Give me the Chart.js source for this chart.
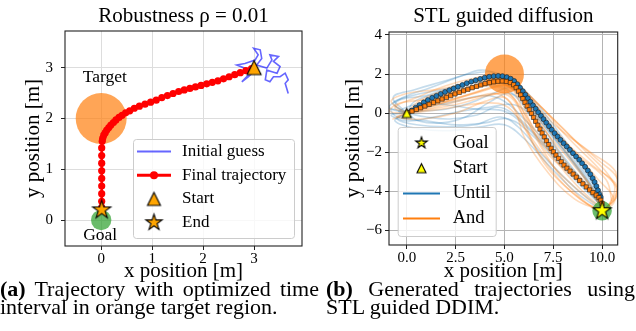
<!DOCTYPE html>
<html>
<head>
<meta charset="utf-8">
<script src="https://cdn.jsdelivr.net/npm/chart.js@4.4.1/dist/chart.umd.min.js"></script>
<style>
	body { margin: 0; width: 636px; height: 331px; background: #fff; position: relative; overflow: hidden; font-family: "Liberation Serif", "Times New Roman", serif; }
	canvas { position: absolute; top: 0; }
	#chartA { left: 0; }
	#chartB { left: 320px; }
	.cap { position: absolute; top: 280px; font-size: 22px; line-height: 18px; color: #000; }
	.cap .j { text-align: justify; text-align-last: justify; white-space: nowrap; }
</style>
</head>
<body>
<canvas id="chartA" width="320" height="285"></canvas>
<canvas id="chartB" width="316" height="285"></canvas>
<div class="cap" style="left:0;width:319px">
	<div class="j"><b>(a)</b> Trajectory with optimized time</div>
	<div>interval in orange target region.</div>
</div>
<div class="cap" style="left:326px;width:309px">
	<div class="j"><b>(b)</b> Generated trajectories using</div>
	<div>STL guided DDIM.</div>
</div>
<script>
// ---------- panel (a) ----------
var xTicksA = [0, 1, 2, 3];
var yTicksA = [0, 1, 2, 3];
var initialGuess = [[2.95,2.99],[2.92,2.89],[2.76,2.72],[2.89,2.82],[2.99,2.92],[2.66,3.05],[2.82,3.08],[3.02,3.15],
	[3.08,3.25],[2.99,3.38],[3.12,3.35],[3.15,3.18],[3.05,3.05],[3.25,2.99],[3.35,3.15],[3.31,3.25],[3.48,3.22],
	[3.38,3.12],[3.51,3.02],[3.45,2.89],[3.35,2.92],[3.25,2.95],[3.22,2.76],[3.31,2.72],[3.38,2.82],[3.51,2.82],
	[3.61,2.89],[3.67,2.76],[3.61,2.69],[3.67,2.49]];
var finalTrajectory = [[2.95,2.98],[2.84,2.94],[2.73,2.9],[2.62,2.86],[2.51,2.82],[2.4,2.78],[2.29,2.74],[2.18,2.71],
	[2.07,2.68],[1.96,2.65],[1.85,2.62],[1.74,2.59],[1.63,2.56],[1.52,2.53],[1.41,2.49],[1.3,2.45],[1.19,2.41],
	[1.08,2.36],[0.97,2.32],[0.86,2.28],[0.75,2.24],[0.65,2.2],[0.56,2.15],[0.48,2.11],[0.41,2.06],[0.35,2.02],
	[0.29,1.97],[0.24,1.92],[0.19,1.87],[0.15,1.82],[0.11,1.77],[0.08,1.72],[0.05,1.67],[0.03,1.61],[0.02,1.55],
	[0.01,1.42],[0.01,1.27],[0.01,1.12],[0.01,0.97],[0.01,0.82],[0.01,0.67],[0.01,0.52],[0.01,0.37],[0.01,0.25]];
var startA = [[3, 3]];
var endA = [[0.01, 0.2]];
var targetA = [[0, 2]];
var targetRadiusA = 0.5;
var goalA = [[0, 0]];
var goalRadiusA = 0.2;

// ---------- panel (b) ----------
var xTicksB = [0, 2.5, 5, 7.5, 10];
var yTicksB = [-6, -4, -2, 0, 2, 4];
var untilMean = [[0.05,0.02],[0.25,0.13],[0.45,0.27],[0.65,0.41],[0.87,0.55],[1.08,0.67],[1.3,0.78],[1.52,0.88],
	[1.74,0.98],[1.96,1.08],[2.18,1.17],[2.4,1.26],[2.62,1.35],[2.85,1.44],[3.07,1.53],[3.3,1.61],[3.53,1.68],
	[3.76,1.75],[3.99,1.81],[4.22,1.86],[4.45,1.89],[4.68,1.9],[4.9,1.89],[5.12,1.84],[5.32,1.76],[5.5,1.64],
	[5.66,1.48],[5.8,1.3],[5.94,1.12],[6.07,0.94],[6.2,0.76],[6.33,0.58],[6.46,0.4],[6.6,0.22],[6.73,0.04],
	[6.87,-0.14],[7.0,-0.31],[7.14,-0.49],[7.28,-0.67],[7.42,-0.85],[7.57,-1.03],[7.72,-1.2],[7.87,-1.37],
	[8.03,-1.54],[8.19,-1.71],[8.35,-1.88],[8.51,-2.05],[8.67,-2.22],[8.83,-2.39],[8.98,-2.57],[9.13,-2.75],
	[9.27,-2.94],[9.4,-3.13],[9.52,-3.33],[9.62,-3.53],[9.71,-3.74],[9.79,-3.95],[9.87,-4.16],[9.93,-4.3]];
var andMean = [[0.05,0.02],[0.27,0.1],[0.49,0.19],[0.71,0.27],[0.93,0.36],[1.15,0.45],[1.37,0.54],[1.59,0.63],
	[1.81,0.72],[2.03,0.8],[2.25,0.89],[2.47,0.98],[2.69,1.06],[2.91,1.14],[3.13,1.22],[3.35,1.3],[3.57,1.37],
	[3.79,1.44],[4.01,1.51],[4.23,1.56],[4.45,1.6],[4.67,1.63],[4.89,1.64],[5.1,1.62],[5.3,1.56],[5.47,1.45],
	[5.6,1.3],[5.72,1.12],[5.83,0.93],[5.94,0.74],[6.05,0.55],[6.16,0.36],[6.27,0.17],[6.38,-0.02],[6.49,-0.22],
	[6.6,-0.42],[6.71,-0.62],[6.82,-0.82],[6.93,-1.02],[7.04,-1.22],[7.15,-1.42],[7.27,-1.61],[7.39,-1.8],
	[7.51,-1.98],[7.64,-2.15],[7.77,-2.32],[7.91,-2.49],[8.05,-2.66],[8.2,-2.82],[8.36,-2.97],[8.52,-3.12],
	[8.68,-3.28],[8.85,-3.45],[9.02,-3.62],[9.19,-3.78],[9.36,-3.93],[9.53,-4.07],[9.7,-4.2],[9.84,-4.32],
	[9.94,-4.46],[10.0,-4.62]];
var untilSamples = [
	[[0,0],[-0.6,0.4],[-0.3,0.7],[1,0.9],[2.5,1.4],[4,1.8],[5,1.8],[6,1.0],[7.5,-1],[9,-3],[10,-4.6]],
	[[0,0],[-0.8,0.2],[-0.5,-0.2],[1,-0.4],[2.5,-0.6],[4,-0.5],[5.2,-0.3],[6.5,-1.2],[8,-2.8],[9.4,-4.2],[10,-4.8]],
	[[0,0],[1,0.3],[2.5,0.6],[4,0.9],[5,0.6],[6.2,-0.5],[7.6,-2],[9,-3.6],[10,-4.7]],
	[[0,0],[-0.5,-0.3],[0.5,-0.6],[2,-0.7],[3.5,-0.6],[4.8,-0.2],[5.8,-0.8],[7,-2.2],[8.6,-3.8],[10,-4.9]],
	[[0,0],[-0.7,0.5],[0.3,0.9],[1.8,1.2],[3.2,1.5],[4.5,1.6],[5.5,1.2],[6.6,0],[8,-1.8],[9.3,-3.5],[10,-4.6]],
	[[0,0],[1,-0.2],[2.2,-0.3],[3.6,-0.1],[4.6,0.3],[5.4,0.0],[6.5,-1.0],[8.2,-2.8],[9.6,-4.3],[10,-4.9]],
	[[0,0],[-0.4,0.1],[0.8,0.5],[2.2,0.4],[3.6,0.2],[5,0.1],[6,-0.6],[7.2,-1.8],[8.8,-3.4],[10,-4.8]],
	[[0,0],[0.6,-0.4],[1.8,-0.5],[3,-0.2],[4.3,0.6],[5.3,1.0],[6.3,0.2],[7.6,-1.4],[9,-3.2],[10,-4.7]],
	[[0,0],[-0.9,0.3],[-0.2,0.8],[1.2,1.3],[2.8,1.9],[3.8,2.2],[4.6,2.0],[5.6,1.2],[7,-0.6],[8.6,-2.6],[9.7,-4.2],[10,-4.8]],
	[[0,0],[-0.6,-0.4],[0.6,-0.8],[2.2,-0.9],[3.8,-0.7],[5,-0.6],[6,-1.3],[7.2,-2.6],[8.6,-4.0],[10,-5]],
	[[0,0],[0.8,0.1],[2,0.2],[3.2,0.5],[4.4,1.0],[5.4,1.3],[6.4,0.6],[7.6,-0.9],[8.8,-2.6],[9.8,-4.1],[10,-4.9]],
	[[0,0],[-0.8,-0.1],[0,-0.4],[1.4,-0.2],[2.8,0.1],[4.2,0.3],[5.6,0.4],[6.8,-0.6],[8,-2.2],[9.2,-3.7],[10,-4.8]],
	[[0,0],[0.4,0.6],[1.6,1.0],[3,1.3],[4.2,1.4],[5,1.3],[5.8,0.6],[7,-1.0],[8.4,-2.8],[9.6,-4.2],[10,-4.9]],
	[[0,0],[-0.7,0.8],[0.4,1.2],[1.8,1.6],[3.2,2.0],[4.4,2.1],[5.4,1.7],[6.4,0.8],[7.8,-1.0],[9.2,-3.0],[10,-4.6]]
];
var andSamples = [
	[[0,0],[1,0.5],[2.5,1.0],[4,1.4],[5,1.5],[5.8,0.8],[7,-0.8],[8.5,-2.6],[9.8,-4.3],[10,-4.9]],
	[[0,0],[-0.6,0.3],[0.5,0.8],[2,1.4],[3.5,1.8],[4.6,1.9],[5.8,1.2],[7.2,0.0],[9,-1.8],[10.6,-3.6],[10.4,-4.6],[10,-5]],
	[[0,0],[0.8,0.2],[2.4,0.7],[3.8,1.1],[4.8,1.3],[5.6,0.6],[6.4,-0.6],[7.6,-2.4],[8.8,-3.8],[10,-4.9]],
	[[0,0],[1.2,0.6],[2.8,1.2],[4.2,1.6],[5.2,1.5],[6.4,0.4],[7.8,-1.2],[9.4,-2.6],[10.8,-3.8],[10.3,-4.8]],
	[[0,0],[-0.5,-0.2],[0.8,-0.3],[2.5,0],[4,0.6],[5,0.8],[5.6,0],[6,-1.2],[7.2,-3],[8.6,-4.4],[10,-5]],
	[[0,0],[1,0.4],[2.6,0.8],[4,1.2],[5.2,1.4],[6.2,0.6],[7.4,-0.8],[8.8,-2.2],[10.2,-3.4],[10.5,-4.5]],
	[[0,0],[0.6,0.6],[2,1.2],[3.4,1.6],[4.4,1.8],[5.2,1.7],[6,1.0],[6.8,-0.2],[8,-1.8],[9.2,-3.4],[10,-4.8]],
	[[0,0],[1,0.1],[2.4,0.3],[3.8,0.5],[5,0.4],[5.8,-0.4],[6.6,-1.8],[7.8,-3.4],[9,-4.5],[10,-5]],
	[[0,0],[-0.8,0.6],[0,1.0],[1.5,1.2],[3,1.5],[4.5,1.7],[5.6,1.4],[6.8,0.4],[8.2,-1.2],[9.8,-2.8],[10.8,-4.0],[10.2,-4.9]],
	[[0,0],[1.4,0.7],[3,1.2],[4.6,1.5],[5.6,1.1],[6.2,-0.2],[7,-1.8],[8.2,-3.0],[9.4,-4.0],[10,-4.9]],
	[[0,0],[1,0.3],[2.2,0.6],[3.4,0.8],[4.6,1.0],[5.4,0.4],[6.2,-1.0],[7.4,-2.6],[8.6,-3.8],[10,-5]],
	[[0,0],[1.2,0.8],[2.8,1.4],[4.2,1.8],[5,1.9],[6,1.2],[7.2,-0.4],[8.6,-2.0],[9.8,-3.4],[10.6,-4.4],[10,-5]],
	[[0,0],[-0.7,-0.3],[0.6,0.2],[2,0.6],[3.4,1.0],[4.6,1.4],[5.4,1.2],[6,0],[6.8,-1.6],[8,-3.4],[9.2,-4.6],[10,-5]],
	[[0,0],[1,0.6],[2.4,1.1],[3.8,1.5],[4.8,1.7],[5.8,1.3],[7,0.2],[8.4,-1.2],[9.8,-2.4],[10.8,-3.4],[10.6,-4.6],[10,-5]],
	[[0,0],[-0.9,0.1],[-0.4,0.5],[1,0.7],[2.6,1.1],[4,1.4],[5,1.5],[5.9,0.9],[6.8,-0.4],[7.8,-2.0],[9,-3.6],[10,-4.8]],
	[[0,0],[1.2,0.2],[2.8,0.5],[4.2,0.9],[5.2,1.0],[5.8,0.2],[6.4,-1.4],[7.2,-2.8],[8.4,-4.0],[9.6,-4.9],[10,-5]],
	[[0,0],[0.8,0.4],[2.2,0.9],[3.6,1.3],[4.8,1.6],[5.6,1.3],[6.6,0.4],[7.8,-0.8],[9.4,-2.0],[10.7,-3.0],[10.8,-4.2],[10,-5]],
	[[0,0],[1,0.2],[2.6,0.6],[4,0.9],[5.2,0.9],[6,-0.2],[6.8,-1.4],[7.6,-2.2],[8.8,-3.2],[9.8,-4.4],[10,-5]]
];
var startB = [[0, 0]];
var goalB = [[10, -5]];
var targetB = [[5, 2]];
var targetRadiusB = 1.0;
var goalRadiusB = 0.5;

var serif = '"Liberation Serif", "Times New Roman", serif';
Chart.defaults.font.family = serif;
Chart.defaults.color = '#000';

function pts(a) {
	return a.map(function(p) { return {x: p[0], y: p[1]}; });
}

// matplotlib-like filled markers with black edge
function markerImage(shape, size, fill) {
	var pad = 2, s = Math.ceil(size + pad * 2);
	var c = document.createElement('canvas');
	c.width = s; c.height = s;
	var g = c.getContext('2d');
	var m = s / 2, r = size / 2;
	g.beginPath();
	if (shape === 'star') {
		for (var i = 0; i < 10; i++) {
			var rr = i % 2 ? r * 0.382 : r;
			var a = -Math.PI / 2 + i * Math.PI / 5;
			g.lineTo(m + rr * Math.cos(a), m + rr * Math.sin(a));
		}
	} else {
		g.moveTo(m, m - r); g.lineTo(m + r, m + r); g.lineTo(m - r, m + r);
	}
	g.closePath();
	g.fillStyle = fill; g.fill();
	g.lineWidth = 1.1; g.strokeStyle = '#000'; g.lineJoin = 'miter'; g.stroke();
	return c;
}

// circle radius given in data units, converted with the x scale
function dataRadius(r) {
	return function(c) {
		var s = c.chart.scales.x;
		return Math.abs(s.getPixelForValue(r) - s.getPixelForValue(0)) || 0;
	};
}

var frame = {
	id: 'frame',
	afterDatasetsDraw: function(chart) {
		var ctx = chart.ctx, a = chart.chartArea;
		ctx.save();
		ctx.strokeStyle = '#222'; ctx.lineWidth = 1.1;
		ctx.strokeRect(a.left, a.top, a.right - a.left, a.bottom - a.top);
		ctx.restore();
	}
};

var notes = {
	id: 'notes',
	afterDatasetsDraw: function(chart, args, o) {
		if (!o.items) return;
		var ctx = chart.ctx, sx = chart.scales.x, sy = chart.scales.y;
		ctx.save();
		ctx.font = o.size + 'px ' + serif;
		ctx.fillStyle = '#000'; ctx.textAlign = 'center'; ctx.textBaseline = 'middle';
		o.items.forEach(function(n) {
			ctx.fillText(n.text, sx.getPixelForValue(n.x), sy.getPixelForValue(n.y));
		});
		ctx.restore();
	}
};

var legendBox = {
	id: 'legendBox',
	afterDraw: function(chart, args, o) {
		if (!o.items) return;
		var ctx = chart.ctx, a = chart.chartArea;
		var x0 = o.fromRight ? a.right - o.margin - o.w : a.left + o.margin;
		var y0 = a.bottom - o.marginBottom - o.h;
		ctx.save();
		ctx.beginPath();
		ctx.roundRect(x0 + 0.5, y0 + 0.5, o.w, o.h, 3);
		ctx.fillStyle = 'rgba(255,255,255,0.8)'; ctx.fill();
		ctx.strokeStyle = '#cccccc'; ctx.lineWidth = 1; ctx.stroke();
		ctx.font = o.size + 'px ' + serif;
		ctx.textBaseline = 'middle';
		o.items.forEach(function(it, i) {
			var ds = chart.data.datasets[it.ds];
			var y = y0 + o.rowTop + i * o.rowGap;
			var hx0 = x0 + o.handle[0], hx1 = x0 + o.handle[1];
			if (it.line) {
				ctx.beginPath(); ctx.moveTo(hx0, y); ctx.lineTo(hx1, y);
				ctx.strokeStyle = it.color; ctx.lineWidth = it.line; ctx.stroke();
			}
			if (it.marker) {
				ctx.fillStyle = it.color;
				Chart.helpers.drawPoint(ctx, {pointStyle: it.marker, radius: it.r || 4, borderWidth: 0}, (hx0 + hx1) / 2, y);
			}
			ctx.fillStyle = '#000';
			ctx.fillText(ds.label, x0 + o.textX, y);
		});
		ctx.restore();
	}
};

function axes(o) {
	return {
		x: {
			type: 'linear', position: 'bottom', min: o.xMin, max: o.xMax,
			afterBuildTicks: function(s) { s.ticks = o.xTicks.map(function(v) { return {value: v}; }); },
			afterFit: function(s) { s.height = o.xHeight; },
			grid: {color: o.gridColor, lineWidth: 1, tickColor: '#222', tickLength: 4},
			border: {display: false},
			ticks: {font: {size: 15}, padding: 0, maxRotation: 0, callback: o.xFmt},
			title: {display: true, text: 'x position [m]', font: {size: 21}, padding: {top: 0, bottom: 0.5}}
		},
		y: {
			type: 'linear', position: 'left', min: o.yMin, max: o.yMax,
			afterBuildTicks: function(s) { s.ticks = o.yTicks.map(function(v) { return {value: v}; }); },
			afterFit: function(s) { s.width = o.yWidth; },
			grid: {color: o.gridColor, lineWidth: 1, tickColor: '#222', tickLength: 4},
			border: {display: false},
			ticks: {font: {size: 15}, padding: o.yPad, callback: o.yFmt},
			title: {display: true, text: 'y position [m]', font: {size: 21}, padding: {top: 20.4, bottom: 0}}
		}
	};
}

// ---------- chart (a) ----------
var starA = markerImage('star', 19, '#ffa500');
var triA = markerImage('tri', 14, '#ffa500');

new Chart(document.getElementById('chartA'), {
	type: 'scatter',
	data: {
		datasets: [
			{label: 'End', data: pts(endA), pointStyle: starA, pointRadius: 9, order: 0},
			{label: 'Start', data: pts(startA), pointStyle: triA, pointRadius: 8, order: 1},
			{label: 'Final trajectory', data: pts(finalTrajectory), showLine: true, borderColor: '#ff0000',
				borderWidth: 2.5, pointRadius: 3.6, pointBackgroundColor: '#ff0000', pointBorderWidth: 0, order: 2},
			{label: 'Initial guess', data: pts(initialGuess), showLine: true, borderColor: 'rgba(0,0,255,0.6)',
				borderWidth: 1.6, pointRadius: 0, order: 3},
			{label: 'Goal', data: pts(goalA), pointRadius: dataRadius(goalRadiusA),
				backgroundColor: 'rgba(44,160,44,0.7)', borderWidth: 0, order: 4},
			{label: 'Target', data: pts(targetA), pointRadius: dataRadius(targetRadiusA),
				backgroundColor: 'rgba(255,127,14,0.7)', borderWidth: 0, order: 5}
		]
	},
	options: {
		responsive: false, animation: false, events: [],
		layout: {padding: {left: 0, right: 18, top: 0, bottom: 0}},
		scales: axes({xMin: -0.71, xMax: 3.94, yMin: -0.51, yMax: 3.72, xTicks: xTicksA, yTicks: yTicksA,
			xHeight: 39, yWidth: 65, yPad: 8, gridColor: '#dddddd'}),
		plugins: {
			legend: {display: false}, tooltip: {enabled: false},
			title: {display: true, text: 'Robustness ρ = 0.01', fullSize: false, font: {size: 21, weight: 'normal'},
				color: '#000', padding: {top: 3.4, bottom: 2.4}},
			notes: {size: 17.5, items: [{text: 'Target', x: 0.07, y: 2.8}, {text: 'Goal', x: -0.02, y: -0.3}]},
			legendBox: {fromRight: true, margin: 8, marginBottom: 8, w: 161, h: 99, rowTop: 12.5, rowGap: 23.7,
				handle: [4, 38], textX: 49, size: 17, items: [
					{ds: 3, line: 2, color: 'rgba(0,0,255,0.6)'},
					{ds: 2, line: 3, color: '#ff0000', marker: 'circle', r: 4},
					{ds: 1, marker: markerImage('tri', 13, '#ffa500')},
					{ds: 0, marker: markerImage('star', 17, '#ffa500')}
				]}
		}
	},
	plugins: [frame, notes, legendBox]
});

// ---------- chart (b) ----------
var sampleSets = [];
andSamples.forEach(function(s) {
	sampleSets.push({label: 'And sample', data: pts(s), showLine: true, borderColor: 'rgba(255,127,14,0.28)',
		borderWidth: 1.6, pointRadius: 0, tension: 0.4, order: 6});
});
untilSamples.forEach(function(s) {
	sampleSets.push({label: 'Until sample', data: pts(s), showLine: true, borderColor: 'rgba(31,119,180,0.26)',
		borderWidth: 1.6, pointRadius: 0, tension: 0.4, order: 7});
});

new Chart(document.getElementById('chartB'), {
	type: 'scatter',
	data: {
		datasets: [
			{label: 'Goal', data: pts(goalB), pointStyle: markerImage('star', 19, '#ffff00'), pointRadius: 9, order: 0},
			{label: 'Start', data: pts(startB), pointStyle: markerImage('tri', 9, '#ffff00'), pointRadius: 5, order: 1},
			{label: 'Until', data: pts(untilMean), showLine: true, borderColor: '#1f77b4', borderWidth: 1.5,
				pointRadius: 2.5, pointBackgroundColor: '#1f77b4', pointBorderColor: '#1a1a1a', pointBorderWidth: 0.6, order: 3},
			{label: 'And', data: pts(andMean), showLine: true, borderColor: '#ff7f0e', borderWidth: 1.5,
				pointStyle: 'rect', pointRadius: 3.0, pointBackgroundColor: '#ff7f0e', pointBorderColor: '#1a1a1a',
				pointBorderWidth: 0.6, order: 2},
			{label: 'Goal region', data: pts(goalB), pointRadius: dataRadius(goalRadiusB),
				backgroundColor: 'rgba(44,160,44,0.7)', borderWidth: 0, order: 4},
			{label: 'Target region', data: pts(targetB), pointRadius: dataRadius(targetRadiusB),
				backgroundColor: 'rgba(255,127,14,0.7)', borderWidth: 0, order: 5}
		].concat(sampleSets)
	},
	options: {
		responsive: false, animation: false, events: [],
		layout: {padding: {left: 0, right: 18.3, top: 0, bottom: 0}},
		scales: axes({xMin: -0.91, xMax: 10.8, yMin: -6.75, yMax: 4.15, xTicks: xTicksB, yTicks: yTicksB,
			xHeight: 40, yWidth: 69, yPad: 3, gridColor: '#b4b4b4',
			xFmt: function(v) { return v.toFixed(1); },
			yFmt: function(v) { return v < 0 ? '\u2212' + Math.abs(v) : String(v); }}),
		plugins: {
			legend: {display: false}, tooltip: {enabled: false},
			title: {display: true, text: 'STL guided diffusion', fullSize: false, font: {size: 21, weight: 'normal'},
				color: '#000', padding: {top: 3.4, bottom: 3.4}},
			legendBox: {fromRight: false, margin: 8.7, marginBottom: 9, w: 98, h: 109, rowTop: 16, rowGap: 25.2,
				handle: [5.3, 42.3], textX: 55, size: 18.5, items: [
					{ds: 0, marker: markerImage('star', 12, '#ffff00')},
					{ds: 1, marker: markerImage('tri', 9, '#ffff00')},
					{ds: 2, line: 2, color: '#1f77b4'},
					{ds: 3, line: 2, color: '#ff7f0e'}
				]}
		}
	},
	plugins: [frame, legendBox]
});
</script>
</body>
</html>
